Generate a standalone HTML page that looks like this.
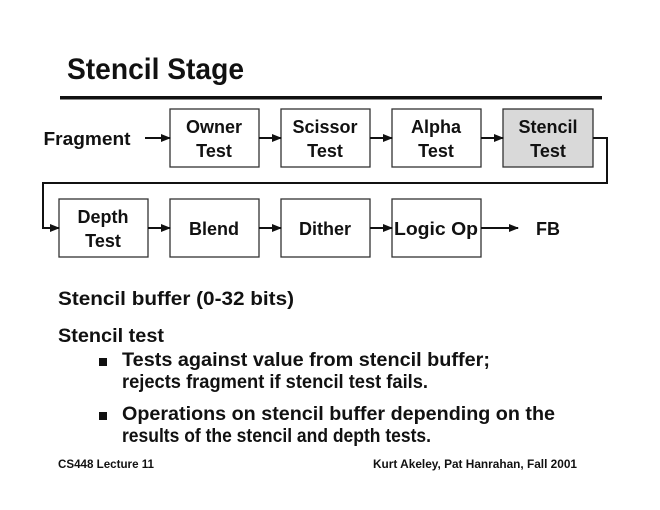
<!DOCTYPE html>
<html><head><meta charset="utf-8"><style>
html,body{margin:0;padding:0;background:#fff;width:660px;height:510px;overflow:hidden}
svg text{font-family:"Liberation Sans",sans-serif;font-weight:bold;fill:#111}
</style></head><body>
<svg width="660" height="510" viewBox="0 0 660 510" xmlns="http://www.w3.org/2000/svg">
<defs><marker id="a" markerWidth="10" markerHeight="8" refX="9" refY="4" orient="auto" markerUnits="userSpaceOnUse"><path d="M0,0 L10,4 L0,8 z" fill="#111"/></marker></defs>
<text x="67" y="79" font-size="30" textLength="177" lengthAdjust="spacingAndGlyphs">Stencil Stage</text>
<rect x="60" y="96" width="542" height="3.5" fill="#111"/>
<g stroke="#333" stroke-width="1.3" fill="#fff">
<rect x="170" y="109" width="89" height="58"/>
<rect x="281" y="109" width="89" height="58"/>
<rect x="392" y="109" width="89" height="58"/>
<rect x="503" y="109" width="90" height="58" fill="#d9d9d9"/>
<rect x="59" y="199" width="89" height="58"/>
<rect x="170" y="199" width="89" height="58"/>
<rect x="281" y="199" width="89" height="58"/>
<rect x="392" y="199" width="89" height="58"/>
</g>
<g stroke="#111" stroke-width="2" fill="none" marker-end="url(#a)">
<line x1="145" y1="138" x2="170" y2="138"/>
<line x1="259" y1="138" x2="281" y2="138"/>
<line x1="370" y1="138" x2="392" y2="138"/>
<line x1="481" y1="138" x2="503" y2="138"/>
<polyline points="593,138 607,138 607,183 43,183 43,228 59,228"/>
<line x1="148" y1="228" x2="170" y2="228"/>
<line x1="259" y1="228" x2="281" y2="228"/>
<line x1="370" y1="228" x2="392" y2="228"/>
<line x1="481" y1="228" x2="518" y2="228"/>
</g>
<g font-size="18" text-anchor="middle">
<text x="87" y="145" textLength="87" lengthAdjust="spacingAndGlyphs">Fragment</text>
<text x="214" y="133">Owner</text><text x="214" y="157">Test</text>
<text x="325" y="133">Scissor</text><text x="325" y="157">Test</text>
<text x="436" y="133">Alpha</text><text x="436" y="157">Test</text>
<text x="548" y="133">Stencil</text><text x="548" y="157">Test</text>
<text x="103" y="223">Depth</text><text x="103" y="247">Test</text>
<text x="214" y="235">Blend</text>
<text x="325" y="235">Dither</text>
<text x="436" y="235" textLength="84" lengthAdjust="spacingAndGlyphs">Logic Op</text>
<text x="548" y="235">FB</text>
</g>
<g font-size="19">
<text x="58" y="305" textLength="236" lengthAdjust="spacingAndGlyphs">Stencil buffer (0-32 bits)</text>
<text x="58" y="342" textLength="106" lengthAdjust="spacingAndGlyphs">Stencil test</text>
<text x="122" y="366" textLength="368" lengthAdjust="spacingAndGlyphs">Tests against value from stencil buffer;</text>
<text x="122" y="388" textLength="306" lengthAdjust="spacingAndGlyphs">rejects fragment if stencil test fails.</text>
<text x="122" y="420" textLength="433" lengthAdjust="spacingAndGlyphs">Operations on stencil buffer depending on the</text>
<text x="122" y="442" textLength="309" lengthAdjust="spacingAndGlyphs">results of the stencil and depth tests.</text>
</g>
<rect x="99" y="358" width="8" height="8" fill="#111"/>
<rect x="99" y="412" width="8" height="8" fill="#111"/>
<g font-size="12">
<text x="58" y="468" textLength="96" lengthAdjust="spacingAndGlyphs">CS448 Lecture 11</text>
<text x="373" y="468" textLength="204" lengthAdjust="spacingAndGlyphs">Kurt Akeley, Pat Hanrahan, Fall 2001</text>
</g>
</svg>
</body></html>
